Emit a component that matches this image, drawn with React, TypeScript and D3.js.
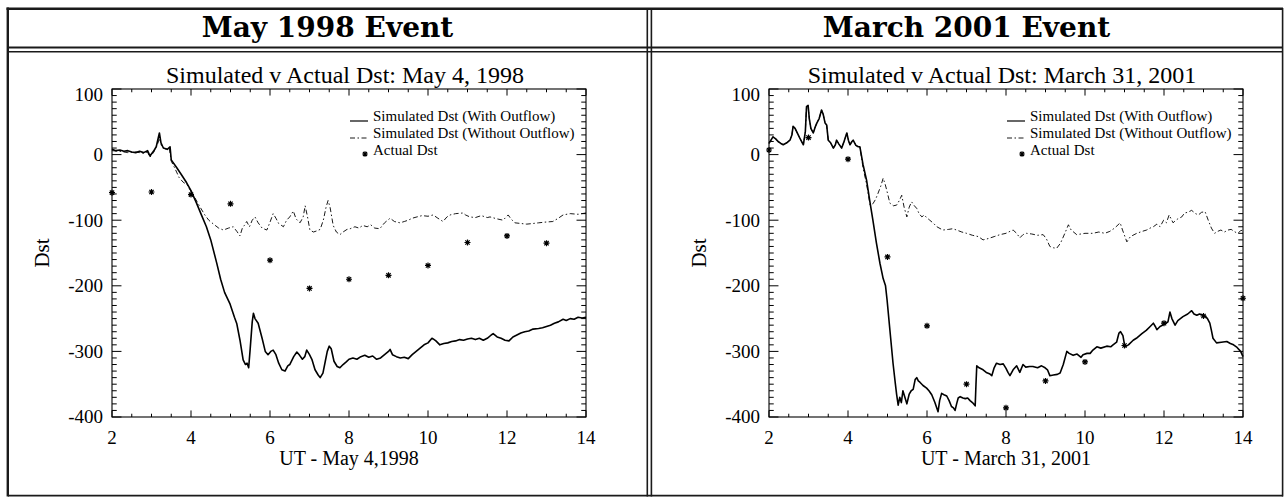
import React from "react";
import * as d3 from "d3";

// ---- Table captions ----
const eventTitles = ["May 1998 Event", "March 2001 Event"];
const plotTitles = [
  "Simulated v Actual Dst: May 4, 1998",
  "Simulated v Actual Dst: March 31, 2001",
];
const xTitles = ["UT - May 4,1998", "UT - March 31, 2001"];
const legendLabels = [
  "Simulated Dst (With Outflow)",
  "Simulated Dst (Without Outflow)",
  "Actual Dst",
];

// ---- Axes ----
const xDomain = [2, 14];
const yDomain = [-400, 100];
const xMajorTicks = [2, 4, 6, 8, 10, 12, 14];
const yMajorTicks = [100, 0, -100, -200, -300, -400];

// ---- May 4, 1998: [UT hour, Dst nT] ----
const withOutflow1998: [number, number][] = [
  [2.0, 8], [2.1, 6], [2.2, 7], [2.3, 5], [2.4, 6], [2.5, 4], [2.6, 3], [2.7, 5],
  [2.8, 3], [2.9, 6], [2.96, -2], [3.05, 5], [3.12, 12], [3.2, 33], [3.24, 18],
  [3.3, 10], [3.4, 8], [3.47, 12], [3.5, -8], [3.64, -20], [3.75, -30], [3.89, -43],
  [4.0, -55], [4.14, -74], [4.25, -90], [4.39, -110], [4.5, -130], [4.65, -165],
  [4.75, -190], [4.85, -210], [4.99, -228], [5.1, -248], [5.16, -258], [5.24, -283],
  [5.32, -313], [5.38, -320], [5.42, -318], [5.46, -325], [5.5, -295], [5.55, -255],
  [5.58, -242], [5.62, -250], [5.7, -257], [5.8, -280], [5.88, -300], [5.95, -305],
  [6.02, -300], [6.08, -298], [6.15, -305], [6.22, -318], [6.3, -328], [6.38, -330],
  [6.45, -322], [6.5, -320], [6.6, -308], [6.68, -301], [6.75, -306], [6.82, -312],
  [6.88, -308], [6.93, -298], [7.0, -305], [7.06, -312], [7.14, -328], [7.22, -336],
  [7.27, -340], [7.34, -333], [7.4, -315], [7.45, -300], [7.5, -292], [7.55, -296],
  [7.62, -315], [7.7, -323], [7.77, -325], [7.85, -320], [7.93, -316], [8.0, -312],
  [8.1, -310], [8.2, -312], [8.3, -308], [8.4, -306], [8.5, -309], [8.6, -307],
  [8.7, -312], [8.8, -310], [8.9, -305], [9.0, -300], [9.04, -297], [9.1, -305],
  [9.2, -308], [9.3, -310], [9.4, -309], [9.5, -311], [9.6, -305], [9.7, -300],
  [9.8, -295], [9.9, -290], [10.0, -287], [10.1, -280], [10.13, -281], [10.2, -284],
  [10.3, -290], [10.4, -288], [10.5, -287], [10.6, -285], [10.7, -284], [10.8, -282],
  [10.9, -283], [11.0, -281], [11.1, -280], [11.2, -282], [11.3, -280], [11.4, -283],
  [11.5, -280], [11.6, -275], [11.65, -273], [11.75, -278], [11.85, -280], [11.95, -283],
  [12.05, -284], [12.15, -278], [12.25, -275], [12.35, -272], [12.45, -270], [12.55, -269],
  [12.66, -266], [12.8, -265], [12.9, -264], [13.0, -262], [13.1, -260], [13.2, -257],
  [13.3, -255], [13.42, -251], [13.5, -253], [13.6, -250], [13.7, -251], [13.8, -248],
  [13.9, -249], [14.0, -248],
];

const withoutOutflow1998: [number, number][] = [
  [2.0, 6], [2.2, 5], [2.4, 3], [2.6, 4], [2.8, 2], [2.9, 4], [2.96, -4], [3.05, 3],
  [3.15, 15], [3.2, 25], [3.25, 14], [3.35, 8], [3.45, 10], [3.5, -10], [3.6, -22],
  [3.7, -35], [3.8, -42], [3.9, -46], [4.0, -56], [4.1, -66], [4.23, -80], [4.35, -92],
  [4.45, -100], [4.57, -106], [4.7, -112], [4.82, -115], [4.95, -112], [5.07, -110],
  [5.16, -117], [5.24, -124], [5.3, -112], [5.35, -108], [5.41, -102], [5.48, -110],
  [5.55, -100], [5.62, -95], [5.7, -104], [5.8, -112], [5.92, -115], [6.0, -103],
  [6.08, -90], [6.15, -97], [6.22, -105], [6.34, -110], [6.42, -100], [6.5, -95],
  [6.59, -86], [6.66, -98], [6.76, -104], [6.84, -95], [6.89, -78], [6.95, -95],
  [7.01, -115], [7.1, -118], [7.2, -116], [7.27, -114], [7.35, -100], [7.42, -80],
  [7.47, -70], [7.52, -80], [7.6, -108], [7.68, -118], [7.77, -122], [7.85, -118],
  [7.95, -114], [8.03, -113], [8.15, -110], [8.25, -112], [8.35, -108], [8.46, -110],
  [8.55, -107], [8.65, -112], [8.78, -113], [8.9, -104], [9.04, -97], [9.15, -102],
  [9.29, -104], [9.4, -102], [9.5, -100], [9.6, -97], [9.72, -95], [9.85, -93],
  [10.0, -94], [10.13, -92], [10.25, -97], [10.38, -102], [10.48, -95], [10.56, -92],
  [10.7, -90], [10.89, -89], [10.95, -92], [11.06, -95], [11.2, -96], [11.35, -93],
  [11.5, -96], [11.57, -95], [11.75, -98], [11.9, -100], [12.03, -92], [12.1, -98],
  [12.2, -104], [12.35, -105], [12.5, -106], [12.66, -105], [12.8, -104], [12.95, -103],
  [13.16, -102], [13.3, -97], [13.42, -92], [13.6, -90], [13.8, -91], [14.0, -89],
];

const actualHours1998 = [2, 3, 4, 5, 6, 7, 8, 9, 10, 11, 12, 13];
const actualDst1998 = [-58, -57, -61, -75, -161, -204, -190, -184, -169, -134, -124, -135];

// ---- March 31, 2001: [UT hour, Dst nT] ----
const preStorm2001: [number, number][] = [
  [2.0, 17], [2.05, 22], [2.1, 27], [2.17, 24], [2.23, 20], [2.3, 17], [2.36, 15],
  [2.45, 18], [2.53, 22], [2.58, 30], [2.61, 43], [2.66, 40], [2.7, 35], [2.78, 25],
  [2.87, 15], [2.92, 35], [2.95, 73], [2.99, 75], [3.02, 55], [3.06, 40], [3.12, 33],
  [3.17, 42], [3.21, 48], [3.27, 55], [3.33, 68], [3.37, 62], [3.42, 48], [3.46, 45],
  [3.5, 22], [3.56, 18], [3.63, 10], [3.68, 15], [3.71, 22], [3.77, 16], [3.84, 10],
  [3.9, 20], [3.97, 33], [4.01, 22], [4.05, 15], [4.1, 20], [4.13, 22], [4.2, 14],
  [4.26, 12], [4.3, 12],
];

const mainPhaseWithOutflow2001: [number, number][] = [
  [4.38, -15], [4.47, -39], [4.55, -70], [4.63, -100], [4.72, -135], [4.81, -166],
  [4.89, -189], [4.95, -200], [4.99, -222], [5.06, -267], [5.14, -318], [5.2, -350],
  [5.23, -365], [5.27, -382], [5.31, -370], [5.35, -378], [5.39, -360], [5.44, -370],
  [5.49, -380], [5.55, -365], [5.6, -360], [5.65, -358], [5.7, -343], [5.74, -340],
  [5.78, -345], [5.82, -347], [5.9, -352], [5.99, -356], [6.05, -360], [6.12, -366],
  [6.2, -378], [6.28, -392], [6.32, -375], [6.37, -364], [6.43, -366], [6.5, -368],
  [6.56, -375], [6.62, -384], [6.67, -386], [6.71, -390], [6.75, -380], [6.79, -371],
  [6.84, -369], [6.91, -371], [6.97, -372], [7.03, -371], [7.09, -375], [7.15, -378],
  [7.22, -383], [7.24, -350], [7.26, -322], [7.32, -325], [7.42, -328], [7.5, -332],
  [7.58, -334], [7.64, -337], [7.7, -325], [7.76, -318], [7.85, -320], [7.93, -319],
  [8.0, -326], [8.05, -332], [8.1, -337], [8.18, -328], [8.27, -322], [8.35, -332],
  [8.43, -320], [8.5, -324], [8.6, -323], [8.68, -323], [8.8, -325], [8.9, -322],
  [8.99, -325], [9.05, -328], [9.11, -337], [9.2, -336], [9.3, -335], [9.37, -333],
  [9.45, -320], [9.54, -300], [9.6, -303], [9.7, -306], [9.8, -304], [9.9, -309],
  [9.95, -305], [10.05, -303], [10.13, -303], [10.2, -298], [10.3, -293], [10.4, -295],
  [10.55, -292], [10.65, -293], [10.71, -290], [10.8, -286], [10.86, -272], [10.9, -270],
  [10.96, -276], [11.01, -293], [11.1, -290], [11.22, -283], [11.3, -280], [11.44, -273],
  [11.55, -268], [11.65, -262], [11.73, -257], [11.78, -262], [11.82, -267], [11.9, -262],
  [12.03, -258], [12.1, -255], [12.15, -240], [12.2, -250], [12.28, -260], [12.35, -253],
  [12.48, -247], [12.6, -243], [12.7, -238], [12.76, -243], [12.83, -245], [12.9, -243],
  [13.04, -246], [13.1, -250], [13.16, -257], [13.2, -268], [13.24, -280], [13.33, -287],
  [13.45, -286], [13.59, -285], [13.68, -288], [13.76, -290], [13.85, -294], [13.94, -300],
  [14.0, -308],
];

const mainPhaseWithoutOutflow2001: [number, number][] = [
  [4.38, -20], [4.47, -45], [4.56, -77], [4.63, -75], [4.7, -68], [4.76, -59], [4.83, -48],
  [4.89, -36], [4.94, -45], [4.98, -54], [5.06, -74], [5.15, -78], [5.23, -77], [5.3, -70],
  [5.36, -62], [5.42, -80], [5.49, -95], [5.55, -80], [5.61, -72], [5.68, -78], [5.74, -82],
  [5.8, -90], [5.87, -95], [5.93, -92], [5.99, -96], [6.07, -100], [6.15, -104],
  [6.25, -110], [6.4, -115], [6.55, -114], [6.65, -113], [6.75, -115], [6.88, -118],
  [7.0, -120], [7.15, -123], [7.3, -125], [7.42, -130], [7.55, -128], [7.7, -125],
  [7.85, -122], [8.0, -120], [8.1, -117], [8.18, -115], [8.27, -120], [8.35, -127],
  [8.43, -122], [8.52, -120], [8.65, -121], [8.8, -123], [8.94, -122], [9.02, -128],
  [9.11, -140], [9.2, -142], [9.28, -143], [9.38, -135], [9.49, -120], [9.58, -107],
  [9.65, -115], [9.79, -122], [9.9, -121], [10.0, -120], [10.2, -120], [10.35, -118],
  [10.5, -120], [10.63, -117], [10.75, -112], [10.89, -104], [10.95, -115], [11.06, -133],
  [11.15, -125], [11.31, -120], [11.45, -117], [11.56, -115], [11.65, -112], [11.73, -110],
  [11.82, -106], [11.9, -110], [11.99, -100], [12.06, -104], [12.13, -92], [12.23, -104],
  [12.3, -100], [12.35, -98], [12.45, -95], [12.52, -89], [12.6, -88], [12.7, -85],
  [12.8, -90], [12.87, -92], [12.95, -88], [13.04, -87], [13.12, -100], [13.2, -112],
  [13.28, -120], [13.36, -117], [13.44, -115], [13.53, -118], [13.62, -115], [13.7, -114],
  [13.8, -118], [13.87, -120], [13.94, -116], [14.0, -115],
];

const actualHours2001 = [2, 3, 4, 5, 6, 7, 8, 9, 10, 11, 12, 13, 14];
const actualDst2001 = [7, 26, -7, -156, -261, -350, -386, -345, -316, -291, -257, -246, -219];

// ---- Styling ----
const SERIF = "'Liberation Serif', 'Times New Roman', serif";
const HEAD = "'DejaVu Serif', serif";
const INK = "#000";
const DASH = "5,2.5,1.5,2.5";

const PLOT_W = 474;
const PLOT_TOP = 89;
const PLOT_BOTTOM = 417;

function asteriskPath(cx: number, cy: number, r: number) {
  const d = r * 0.72;
  return (
    `M${cx - r},${cy}L${cx + r},${cy}` +
    `M${cx},${cy - r}L${cx},${cy + r}` +
    `M${cx - d},${cy - d}L${cx + d},${cy + d}` +
    `M${cx - d},${cy + d}L${cx + d},${cy - d}`
  );
}

type Props = {
  left: number;
  title: string;
  xTitle: string;
  solid: [number, number][];
  dashed: [number, number][];
  hours: number[];
  actual: number[];
};

function DstPanel({ left, title, xTitle, solid, dashed, hours, actual }: Props) {
  const x = d3.scaleLinear().domain(xDomain).range([left, left + PLOT_W]);
  const y = d3.scaleLinear().domain(yDomain).range([PLOT_BOTTOM, PLOT_TOP]);
  const line = d3
    .line<[number, number]>()
    .x((d) => x(d[0]))
    .y((d) => y(d[1]));

  const xMinor = d3.range(xDomain[0], xDomain[1] + 0.001, 0.5);
  const yMinor = d3.range(yDomain[0], yDomain[1] + 0.001, 10);
  const xTickMajor = 0.02 * (PLOT_BOTTOM - PLOT_TOP);
  const yTickMajor = 0.02 * PLOT_W;
  const x0 = left;
  const x1 = left + PLOT_W;
  const cx = left + PLOT_W / 2;

  const ticks: string[] = [];
  xMinor.forEach((v) => {
    const major = xMajorTicks.includes(v);
    const len = major ? xTickMajor : xTickMajor / 2;
    const px = x(v);
    ticks.push(`M${px},${PLOT_BOTTOM}V${PLOT_BOTTOM - len}`);
    ticks.push(`M${px},${PLOT_TOP}V${PLOT_TOP + len}`);
  });
  yMinor.forEach((v) => {
    const major = yMajorTicks.includes(Math.round(v));
    const len = major ? yTickMajor : yTickMajor / 2;
    const py = y(v);
    ticks.push(`M${x0},${py}H${x0 + len}`);
    ticks.push(`M${x1},${py}H${x1 - len}`);
  });

  const legX = left + 238;
  const legY = 121;

  return (
    <g>
      <text x={cx - 4} y={83} fontFamily={SERIF} fontSize={24} textAnchor="middle" fill={INK}>
        {title}
      </text>

      <rect x={x0} y={PLOT_TOP} width={PLOT_W} height={PLOT_BOTTOM - PLOT_TOP} fill="none" stroke={INK} strokeWidth={1.1} />
      <path d={ticks.join("")} stroke={INK} strokeWidth={1} fill="none" />

      {xMajorTicks.map((v) => (
        <text key={`xt${v}`} x={x(v)} y={444} fontFamily={SERIF} fontSize={19} textAnchor="middle" fill={INK}>
          {v}
        </text>
      ))}
      {yMajorTicks.map((v) => (
        <text
          key={`yt${v}`}
          x={x0 - 9}
          y={Math.max(y(v), PLOT_TOP + 6)}
          dy="0.34em"
          fontFamily={SERIF}
          fontSize={19}
          textAnchor="end"
          fill={INK}
        >
          {v < 0 ? `-${Math.abs(v)}` : v}
        </text>
      ))}

      <text x={cx} y={465} fontFamily={SERIF} fontSize={20} textAnchor="middle" fill={INK}>
        {xTitle}
      </text>
      <text
        transform={`translate(${x0 - 63},${(PLOT_TOP + PLOT_BOTTOM) / 2}) rotate(-90)`}
        fontFamily={SERIF}
        fontSize={21}
        textAnchor="middle"
        fill={INK}
      >
        Dst
      </text>

      <path d={line(dashed) || ""} fill="none" stroke={INK} strokeWidth={0.9} strokeDasharray={DASH} />
      <path d={line(solid) || ""} fill="none" stroke={INK} strokeWidth={1.6} strokeLinejoin="round" />
      <path
        d={hours.map((h, i) => asteriskPath(x(h), y(actual[i]), 3)).join("")}
        fill="none"
        stroke={INK}
        strokeWidth={1.2}
      />

      {/* legend */}
      <path d={`M${legX},${legY}H${legX + 18}`} stroke={INK} strokeWidth={1.2} />
      <path d={`M${legX},${legY + 17}H${legX + 18}`} stroke={INK} strokeWidth={0.9} strokeDasharray={DASH} />
      <path d={asteriskPath(legX + 15, legY + 33, 2.8)} stroke={INK} strokeWidth={1.2} fill="none" />
      {legendLabels.map((t, i) => (
        <text key={t} x={legX + 23} y={legY + i * 17} fontFamily={SERIF} fontSize={15} fill={INK}>
          {t}
        </text>
      ))}
    </g>
  );
}

export default function App() {
  const W = 1284;
  const H = 497;
  const rule = "#1a1a1a";
  return (
    <svg
      width={W}
      height={H}
      viewBox={`0 0 ${W} ${H}`}
      style={{ position: "absolute", left: 0, top: 0, background: "#fff" }}
    >
      <rect width={W} height={H} fill="#fff" />
      {/* table rules */}
      <g stroke={rule} fill="none">
        <path d="M6.5,8.7H1283" strokeWidth={2.5} />
        <path d="M8,47.5H1283" strokeWidth={1.8} />
        <path d="M8,51.8H1283" strokeWidth={1.5} />
        <path d="M8,495.6H1283" strokeWidth={1.6} />
        <path d="M7.8,7.5V496.4" strokeWidth={2.4} />
        <path d="M647.3,8V496.4" strokeWidth={1.6} />
        <path d="M651.4,8V496.4" strokeWidth={1.6} />
        <path d="M1282.6,8V496.4" strokeWidth={1.6} />
      </g>

      <text x={327.5} y={37} fontFamily={HEAD} fontWeight="bold" fontSize={28} textAnchor="middle" fill={INK}>
        {eventTitles[0]}
      </text>
      <text x={966.5} y={37} fontFamily={HEAD} fontWeight="bold" fontSize={28} textAnchor="middle" fill={INK}>
        {eventTitles[1]}
      </text>

      <DstPanel
        left={112}
        title={plotTitles[0]}
        xTitle={xTitles[0]}
        solid={withOutflow1998}
        dashed={withoutOutflow1998}
        hours={actualHours1998}
        actual={actualDst1998}
      />
      <DstPanel
        left={769}
        title={plotTitles[1]}
        xTitle={xTitles[1]}
        solid={[...preStorm2001, ...mainPhaseWithOutflow2001]}
        dashed={[...preStorm2001, ...mainPhaseWithoutOutflow2001]}
        hours={actualHours2001}
        actual={actualDst2001}
      />
    </svg>
  );
}
